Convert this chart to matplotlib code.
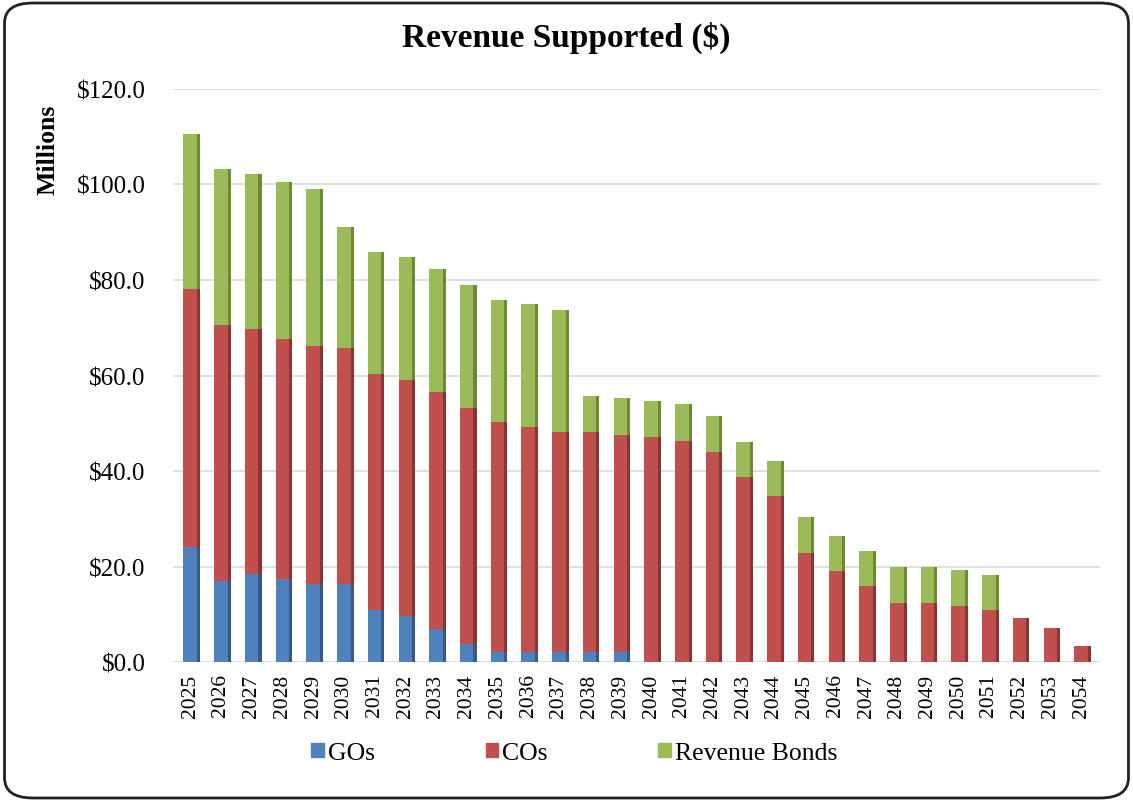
import numpy as np
import matplotlib
matplotlib.use("Agg")
import matplotlib.pyplot as plt
from matplotlib.patches import FancyBboxPatch, Patch

plt.rcParams['font.family'] = ['Liberation Serif', 'DejaVu Serif']

years = [str(y) for y in range(2025, 2055)]

# values in $ millions
gos = [24.1, 17.0, 18.4, 17.4, 16.3, 16.3, 10.9, 9.6, 6.9, 3.8,
       2.2, 2.1, 2.1, 2.1, 2.1, 0, 0, 0, 0, 0,
       0, 0, 0, 0, 0, 0, 0, 0, 0, 0]
cos = [54.0, 53.6, 51.3, 50.2, 49.9, 49.5, 49.4, 49.5, 49.6, 49.4,
       48.1, 47.1, 46.1, 46.1, 45.5, 47.1, 46.3, 44.0, 38.7, 34.8,
       22.8, 19.0, 16.0, 12.4, 12.4, 11.8, 10.9, 9.2, 7.2, 3.4]
rev_bonds = [32.5, 32.6, 32.5, 32.9, 32.9, 25.3, 25.6, 25.7, 25.8, 25.8,
             25.5, 25.8, 25.5, 7.6, 7.7, 7.6, 7.7, 7.6, 7.4, 7.4,
             7.6, 7.5, 7.3, 7.5, 7.5, 7.5, 7.3, 0, 0, 0]

series = [("GOs", gos, "#4F81BD", "#37598a"),
          ("COs", cos, "#C0504D", "#8c3431"),
          ("Revenue Bonds", rev_bonds, "#9BBB59", "#6b8a33")]

fig = plt.figure(figsize=(11.33, 8.03), dpi=100)
ax = fig.add_axes([0.153, 0.174, 0.818, 0.714])

x = np.arange(len(years))
w = 0.44
side = 0.1
bottom = np.zeros(len(years))
for name, vals, col, dark in series:
    vals = np.array(vals)
    ax.bar(x, vals, width=w, bottom=bottom, color=col, zorder=3)
    # darker strip on the right to give the bars some depth
    ax.bar(x + w / 2 + side / 2, vals, width=side, bottom=bottom, color=dark, zorder=3)
    bottom += vals

ax.set_ylim(0, 120)
ax.set_xlim(-0.55, 29.62)
ax.set_yticks(np.arange(0, 121, 20))
ax.set_yticklabels([f"${v:.1f}" for v in np.arange(0, 121, 20)], fontsize=18)
ax.set_xticks(x)
ax.set_xticklabels(years, rotation=90, fontsize=15.5)
ax.tick_params(axis='y', length=0, pad=20)
ax.tick_params(axis='x', length=0, pad=8)
ax.grid(axis='y', color='#d9d9d9', linewidth=1.2, zorder=0)
for s in ax.spines.values():
    s.set_visible(False)

fig.text(0.042, 0.813, "Millions", rotation=90, fontsize=18.5, fontweight='bold',
         ha='center', va='center')
fig.text(0.5, 0.953, "Revenue Supported ($)", fontsize=24, fontweight='bold',
         ha='center', va='center')

handles = [Patch(color=c, label=n) for n, _, c, _ in series]
fig.legend(handles=handles, loc='center', bbox_to_anchor=(0.507, 0.061), ncol=3,
           frameon=False, fontsize=18.5, handlelength=0.5, handleheight=0.5,
           handletextpad=0.15, columnspacing=4.3)

border = FancyBboxPatch((0.004, 0.005), 0.992, 0.99, boxstyle="round,pad=0,rounding_size=0.025",
                        transform=fig.transFigure, fill=False, edgecolor='#222222',
                        linewidth=2)
fig.patches.append(border)

fig.savefig("out.png", dpi=100)
